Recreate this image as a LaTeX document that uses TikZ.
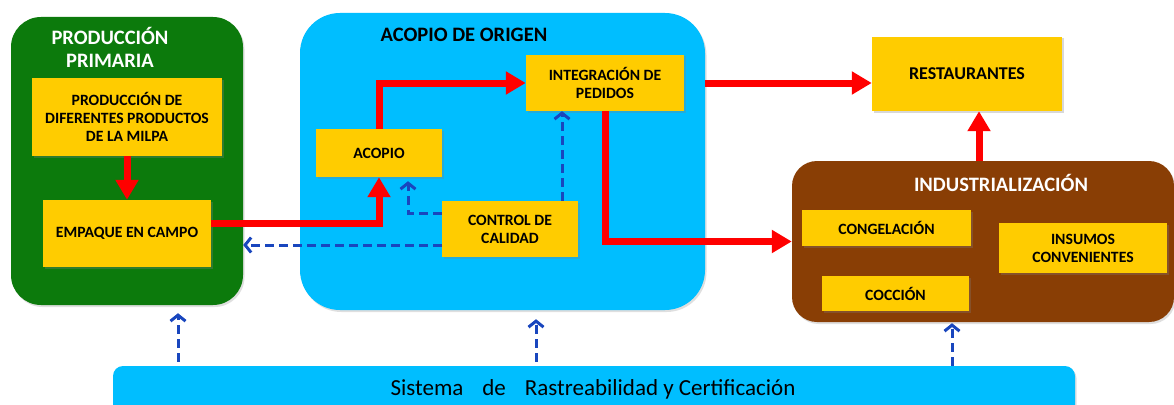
\documentclass[tikz,border=0pt]{standalone}
\usepackage{fontspec}
\setmainfont{Carlito}
\usetikzlibrary{arrows.meta,shadows}
\definecolor{greenc}{RGB}{12,122,12}
\definecolor{bluec}{RGB}{0,190,255}
\definecolor{yelc}{RGB}{255,204,0}
\definecolor{brownc}{RGB}{137,62,5}
\definecolor{redc}{RGB}{255,0,0}
\definecolor{dashc}{RGB}{25,70,190}
\begin{document}
\begin{tikzpicture}[x=1pt,y=-1pt,
  container/.style={draw=none, rounded corners=#1, inner sep=0pt,
    drop shadow={opacity=0.25, shadow xshift=1.5pt, shadow yshift=-2pt}},
  ybox/.style={fill=yelc, align=center, inner sep=2pt,
    font=\fontsize{15.7}{18}\selectfont\bfseries,
    drop shadow={opacity=0.3, shadow xshift=1.5pt, shadow yshift=-1.5pt}},
  ttl/.style={align=center, font=\fontsize{20.5}{23}\selectfont\bfseries},
  redarrow/.style={draw=redc, line width=7pt, -{Triangle[length=20pt,width=22pt]}},
  dasharrow/.style={draw=dashc, line width=3pt, dash pattern=on 9pt off 5pt,
    -{Straight Barb[length=6pt,width=15pt]}}
]
\useasboundingbox[fill=white] (0,0) rectangle (1174,404);

% containers
\node[container=30pt, fill=greenc, minimum width=232pt, minimum height=288pt] (pp) at (127,161) {};
\node[container=40pt, fill=bluec, minimum width=405pt, minimum height=297pt] (orig) at (502.5,161.5) {};
\node[container=25pt, fill=brownc, minimum width=382pt, minimum height=161pt] (ind) at (983,241.5) {};
\node[container=10pt, fill=bluec, minimum width=962pt, minimum height=60pt] (bar) at (594,396) {};

% titles
\node[ttl, text=white] (ppt) at (110,47.5) {PRODUCCIÓN\\PRIMARIA};
\node[ttl, text=black] (origt) at (464,35) {ACOPIO DE ORIGEN};
\node[ttl, text=white] (indt) at (1001,182.5) {INDUSTRIALIZACIÓN};
\node[font=\fontsize{23}{26}\selectfont, anchor=base] (bart) at (593,395) {Sistema\hspace{0.6em} de\hspace{0.6em} Rastreabilidad y Certificación};

% boxes
\node[ybox, minimum width=190pt, minimum height=78pt] (prod) at (127,117) {PRODUCCIÓN DE\\DIFERENTES PRODUCTOS\\DE LA MILPA};
\node[ybox, minimum width=168pt, minimum height=67pt] (emp) at (127,233.5) {EMPAQUE EN CAMPO};
\node[ybox, minimum width=126pt, minimum height=48pt] (acop) at (379,153) {ACOPIO};
\node[ybox, minimum width=158pt, minimum height=56pt] (integ) at (605,83) {INTEGRACIÓN DE\\PEDIDOS};
\node[ybox, minimum width=136pt, minimum height=56pt] (ctrl) at (510,229) {CONTROL DE\\CALIDAD};
\node[ybox, minimum width=190pt, minimum height=74pt, font=\fontsize{18}{21}\selectfont\bfseries] (rest) at (967,74) {RESTAURANTES};
\node[ybox, minimum width=169pt, minimum height=36pt] (cong) at (886.5,228) {CONGELACIÓN};
\node[ybox, minimum width=147pt, minimum height=35pt] (cocc) at (895.5,293.5) {COCCIÓN};
\node[ybox, minimum width=168pt, minimum height=50pt] (insu) at (1083,248) {INSUMOS\\CONVENIENTES};

% red flows
\draw[redarrow] (prod.south) -- (emp.north);
\draw[redarrow] ([yshift=10.5pt]emp.east) -| (acop.south);
\draw[redarrow] (acop.north) |- (integ.west);
\draw[redarrow] (integ.south) |- (ind.west);
\draw[redarrow] (orig.east |- integ.east) -- (rest.west |- integ.east);
\draw[redarrow] ([xshift=12pt]rest.south |- ind.north) -- ([xshift=12pt]rest.south);

% dashed control flows
\draw[dasharrow] ([yshift=-16pt]ctrl.west) -- ([yshift=-16pt]ctrl.west -| pp.east);
\draw[dasharrow] ([yshift=16pt]ctrl.west) -| ([xshift=29pt,yshift=-4pt]acop.south);
\draw[dasharrow] ([xshift=52pt]ctrl.north) -- ([xshift=52pt]ctrl.north |- integ.south);
\draw[dasharrow, shorten <=4pt, shorten >=8pt] ([xshift=51pt]pp.south |- bar.north) -- ([xshift=51pt]pp.south);
\draw[dasharrow, shorten <=4pt, shorten >=9pt] ([xshift=33.5pt]orig.south |- bar.north) -- ([xshift=33.5pt]orig.south);
\draw[dasharrow, shorten <=0pt, shorten >=1pt] ([xshift=-31pt]ind.south |- bar.north) -- ([xshift=-31pt]ind.south);
\end{tikzpicture}
\end{document}
